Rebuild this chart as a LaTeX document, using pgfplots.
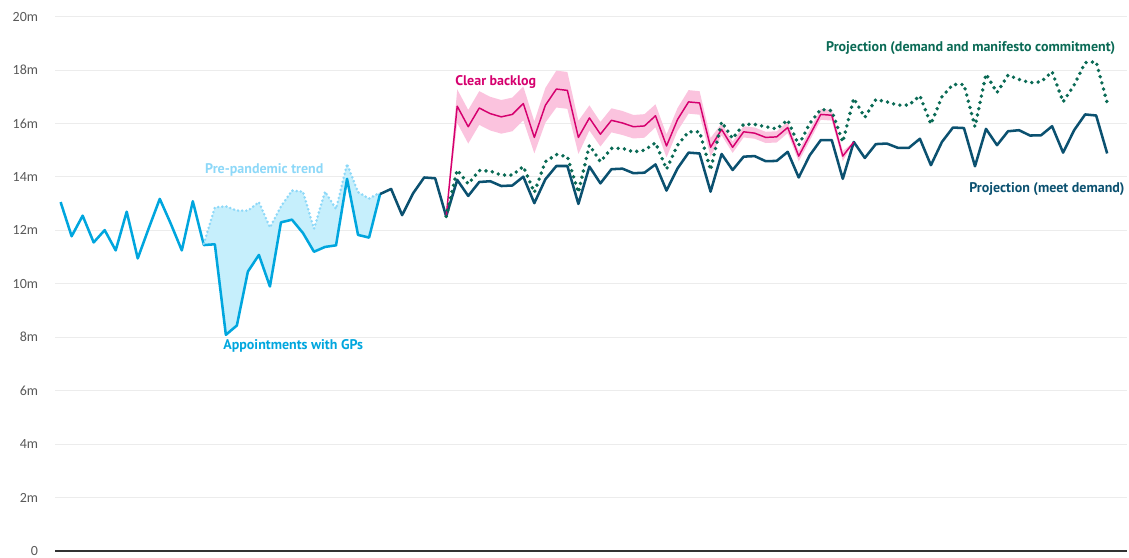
\documentclass[border=0pt]{standalone}
\usepackage{fontspec}
\setmainfont{PT Sans}
\newfontfamily\tickfont{Carlito}
\usepackage{pgfplots}
\usepackage{pgfplotstable}
\pgfplotsset{compat=1.18}
\usepgfplotslibrary{fillbetween}

\definecolor{gpblue}{HTML}{00A6DE}
\definecolor{trendblue}{HTML}{8DD8F8}
\definecolor{trendfill}{HTML}{C6EFFC}
\definecolor{meetteal}{HTML}{0B5170}
\definecolor{maniGreen}{HTML}{0A6A55}
\definecolor{backpink}{HTML}{D5006E}
\definecolor{bandpink}{HTML}{FBC3DE}
\definecolor{gridgray}{HTML}{ECECEC}
\definecolor{tickgray}{HTML}{595959}

% appointments with GPs (monthly index)
\pgfplotstableread{
x y
0 13.06
1 11.78
2 12.55
3 11.55
4 12.01
5 11.25
6 12.70
7 10.95
8 12.08
9 13.18
10 12.25
11 11.25
12 13.09
13 11.45
14 11.48
15 8.09
16 8.44
17 10.46
18 11.08
19 9.90
20 12.30
21 12.40
22 11.90
23 11.20
24 11.38
25 11.44
26 13.93
27 11.83
28 11.73
29 13.36
}\gpdata

% pre-pandemic trend
\pgfplotstableread{
x y
13 11.50
14 12.86
15 12.90
16 12.74
17 12.74
18 13.06
19 12.11
20 12.90
21 13.49
22 13.45
23 12.06
24 13.45
25 12.80
26 14.49
27 13.43
28 13.19
29 13.42
}\trenddata

% projection (meet demand)
\pgfplotstableread{
x y
29 13.36
30 13.55
31 12.57
32 13.39
33 13.98
34 13.95
35 12.52
36 13.89
37 13.29
38 13.81
39 13.84
40 13.66
41 13.68
42 14.01
43 13.02
44 13.91
45 14.41
46 14.41
47 12.99
48 14.39
49 13.76
50 14.29
51 14.31
52 14.14
53 14.16
54 14.47
55 13.49
56 14.32
57 14.91
58 14.88
59 13.45
60 14.86
61 14.26
62 14.76
63 14.78
64 14.59
65 14.60
66 14.94
67 13.98
68 14.81
69 15.38
70 15.38
71 13.93
72 15.31
73 14.71
74 15.23
75 15.25
76 15.09
77 15.09
78 15.43
79 14.44
80 15.31
81 15.85
82 15.83
83 14.40
84 15.80
85 15.19
86 15.71
87 15.75
88 15.55
89 15.56
90 15.90
91 14.91
92 15.75
93 16.34
94 16.30
95 14.88
}\meetdata

% projection (demand and manifesto commitment)
\pgfplotstableread{
x y
35 12.52
36 14.26
37 13.74
38 14.24
39 14.22
40 14.07
41 14.07
42 14.39
43 13.42
44 14.57
45 14.84
46 14.76
47 13.42
48 15.19
49 14.57
50 15.07
51 15.07
52 14.94
53 15.00
54 15.28
55 14.29
56 15.19
57 15.69
58 15.69
59 14.26
60 16.06
61 15.44
62 15.97
63 15.97
64 15.88
65 15.80
66 16.13
67 15.19
68 16.00
69 16.53
70 16.48
71 15.31
72 16.94
73 16.23
74 16.90
75 16.81
76 16.69
77 16.69
78 17.04
79 15.98
80 17.00
81 17.46
82 17.46
83 15.88
84 17.85
85 17.16
86 17.81
87 17.65
88 17.53
89 17.56
90 17.94
91 16.81
92 17.44
93 18.28
94 18.31
95 16.78
}\manidata

% clear backlog: central line with band
\pgfplotstableread{
x y lo hi
35 12.52 12.52 12.52
36 16.65 16.02 17.28
37 15.88 15.25 16.51
38 16.58 15.95 17.21
39 16.37 15.74 17.00
40 16.25 15.62 16.88
41 16.34 15.71 16.97
42 16.75 16.12 17.38
43 15.48 14.88 16.08
44 16.68 16.03 17.33
45 17.29 16.60 17.98
46 17.24 16.55 17.93
47 15.48 14.86 16.10
48 16.21 15.74 16.68
49 15.60 15.14 16.06
50 16.12 15.67 16.57
51 16.02 15.57 16.47
52 15.88 15.44 16.32
53 15.91 15.47 16.35
54 16.29 15.86 16.72
55 15.16 14.73 15.59
56 16.15 15.72 16.58
57 16.81 16.37 17.25
58 16.77 16.33 17.21
59 15.11 14.76 15.46
60 15.78 15.56 16.00
61 15.11 14.90 15.32
62 15.69 15.48 15.90
63 15.64 15.43 15.85
64 15.48 15.27 15.69
65 15.50 15.29 15.71
66 15.85 15.64 16.06
67 14.78 14.58 14.98
68 15.56 15.36 15.76
69 16.34 16.14 16.54
70 16.31 16.11 16.51
71 14.78 14.59 14.97
72 15.31 15.31 15.31
}\backdata

\begin{document}
\begin{tikzpicture}
\begin{axis}[
  scale only axis,
  width=804pt, height=400.7pt,
  xmin=-0.51, xmax=96.8,
  ymin=0, ymax=20,
  clip=false,
  axis lines*=left,
  y axis line style={draw=none},
  x axis line style={draw=black!80, line width=0.9pt},
  xtick=\empty,
  ytick={0,2,...,20},
  yticklabels={0,2m,4m,6m,8m,10m,12m,14m,16m,18m,20m},
  major tick length=0pt,
  yticklabel style={font=\tickfont\fontsize{10.5}{12}\selectfont,
    text=tickgray, anchor=east, inner sep=0pt},
  yticklabel shift=12.5pt,
  ymajorgrids,
  grid style={gridgray, line width=0.8pt},
  every axis plot/.append style={line join=round},
]
% shaded areas
\addplot[draw=none, name path=bandhi, forget plot] table[x=x, y=hi]{\backdata};
\addplot[draw=none, name path=bandlo, forget plot] table[x=x, y=lo]{\backdata};
\addplot[bandpink, forget plot] fill between[of=bandhi and bandlo];

\addplot[gpblue, line width=1.9pt, name path=gp] table[x=x, y=y]{\gpdata};
\addplot[trendblue, line width=2.1pt, line cap=round,
  dash pattern=on 0pt off 3.1pt, name path=trend] table[x=x, y=y]{\trenddata};
\addplot[trendfill, forget plot] fill between[of=trend and gp, soft clip={domain=13:29}];

% projections
\addplot[meetteal, line width=1.9pt] table[x=x, y=y]{\meetdata};
\addplot[backpink, line width=1.1pt] table[x=x, y=y]{\backdata};
\addplot[maniGreen, line width=2.9pt, line cap=round,
  dash pattern=on 0pt off 4.8pt] table[x=x, y=y]{\manidata};

% labels
\begin{scope}[every node/.style={font=\bfseries\fontsize{10.5}{12}\selectfont, inner sep=0pt}]
\node[anchor=base west, text=trendblue] at (axis cs:13.1,14.12) {Pre-pandemic trend};
\node[anchor=base west, text=gpblue] at (axis cs:14.75,7.53) {Appointments with GPs};
\node[anchor=base west, text=backpink] at (axis cs:35.8,17.43) {Clear backlog};
\node[anchor=base east, text=maniGreen] at (axis cs:95.74,18.70) {Projection (demand and manifesto commitment)};
\node[anchor=base east, text=meetteal] at (axis cs:96.6,13.42) {Projection (meet demand)};
\end{scope}
\end{axis}
\pgfresetboundingbox
\path ([shift={(-41.25pt,-5.25pt)}]current axis.south west)
  rectangle ([shift={(1.5pt,12.5pt)}]current axis.north east);
\end{tikzpicture}
\end{document}
